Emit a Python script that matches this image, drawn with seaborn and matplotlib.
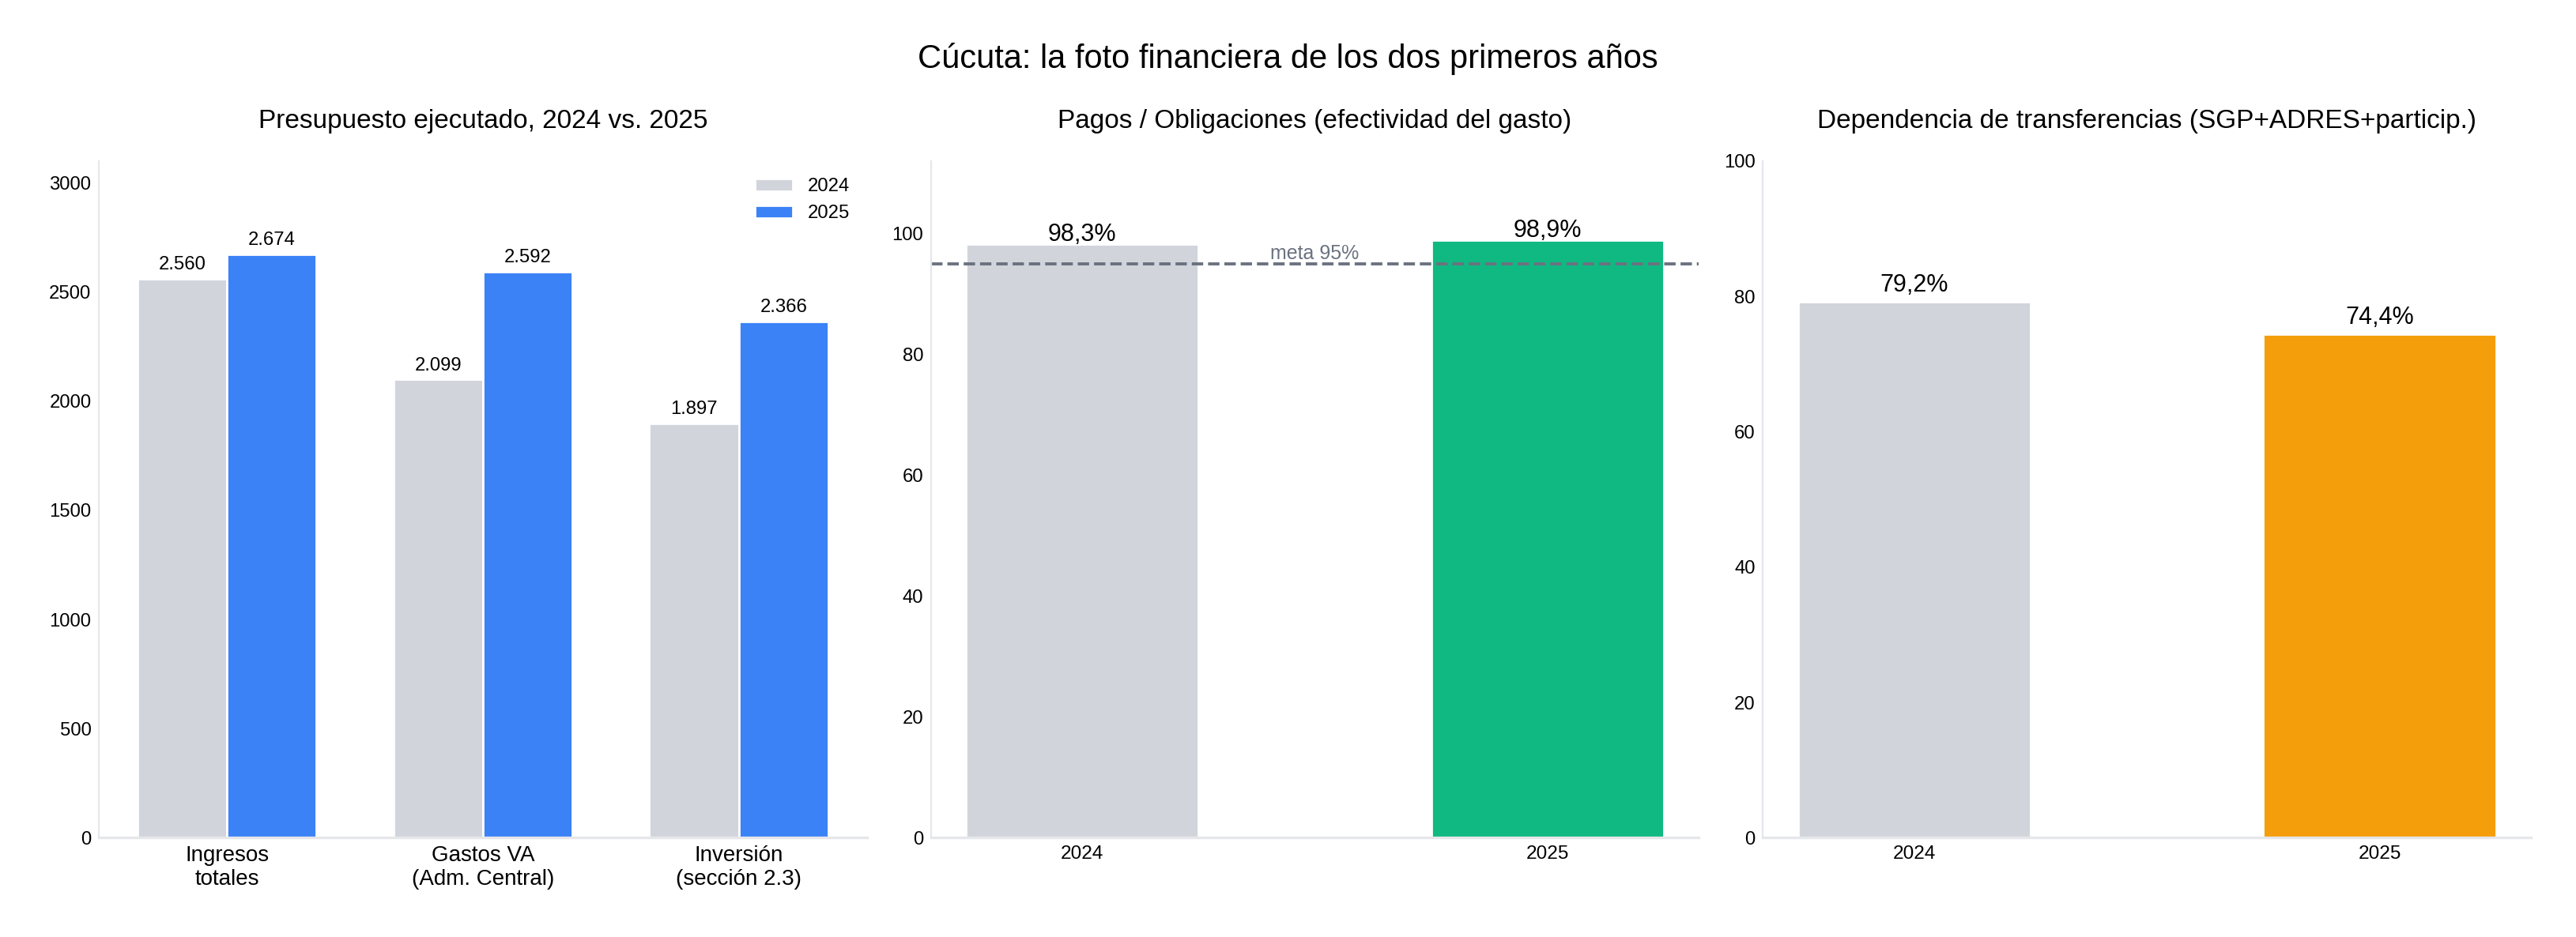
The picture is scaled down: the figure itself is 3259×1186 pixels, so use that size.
import pandas as pd
import matplotlib.pyplot as plt
import seaborn as sns

# Datos (miles de millones de pesos / porcentajes)
categorias = ['Ingresos\ntotales', 'Gastos VA\n(Adm. Central)', 'Inversión\n(sección 2.3)']
presupuesto_2024 = [2560, 2099, 1897]
presupuesto_2025 = [2674, 2592, 2366]
anios = ['2024', '2025']
pagos_oblig = [98.3, 98.9]
dependencia = [79.2, 74.4]
meta = 95

GRIS = '#d1d5db'
AZUL = '#3b82f6'
VERDE = '#10b981'
NARANJA = '#f59e0b'
LINEA = '#6b7280'
EJE = '#e5e7eb'

sns.set_style('white')
plt.rcParams['font.family'] = ['Liberation Sans', 'DejaVu Sans']
for k in ['text.color', 'axes.labelcolor', 'xtick.color', 'ytick.color']:
    plt.rcParams[k] = 'black'

df = pd.DataFrame({
    'categoria': categorias * 2,
    'valor': presupuesto_2024 + presupuesto_2025,
    'anio': ['2024'] * 3 + ['2025'] * 3,
})

fig, axes = plt.subplots(1, 3, figsize=(16.295, 5.93), dpi=200)
fig.subplots_adjust(left=0.0384, right=0.9825, bottom=0.106, top=0.828, wspace=0.0835)


def miles(v):
    return f'{v:,.0f}'.replace(',', '.')


def pct(v):
    return f'{v:.1f}%'.replace('.', ',')


# Panel 1: presupuesto ejecutado
ax = axes[0]
sns.barplot(data=df, x='categoria', y='valor', hue='anio', palette=[GRIS, AZUL],
            width=0.7, saturation=1, edgecolor='white', linewidth=1, ax=ax)
for cont in ax.containers:
    ax.bar_label(cont, labels=[miles(v) for v in cont.datavalues], padding=2.5, fontsize=8.6)
ax.set_ylim(0, 3100)
ax.set_yticks(range(0, 3001, 500))
ax.set_xlim(-0.5, 2.5)
ax.legend(title=None, frameon=False, fontsize=8.6, loc='upper right')
ax.set_title('Presupuesto ejecutado, 2024 vs. 2025', fontsize=12, pad=15)
ax.tick_params(axis='x', labelsize=10)

# Panel 2: pagos / obligaciones
ax = axes[1]
sns.barplot(x=anios, y=pagos_oblig, hue=anios, palette=[GRIS, VERDE], legend=False,
            width=0.5, saturation=1, edgecolor='white', linewidth=1, ax=ax)
ax.axhline(meta, ls='--', color=LINEA, lw=1.4)
ax.text(0.5, meta + 0.1, f'meta {meta}%', ha='center', va='bottom', fontsize=9, color=LINEA)
for i, v in enumerate(pagos_oblig):
    ax.text(i, v + 0.5, pct(v), ha='center', va='baseline', fontsize=11)
ax.set_ylim(0, 112)
ax.set_xlim(-0.325, 1.325)
ax.set_title('Pagos / Obligaciones (efectividad del gasto)', fontsize=12, pad=15)
ax.tick_params(axis='x', labelsize=8.8)

# Panel 3: dependencia de transferencias
ax = axes[2]
sns.barplot(x=anios, y=dependencia, hue=anios, palette=[GRIS, NARANJA], legend=False,
            width=0.5, saturation=1, edgecolor='white', linewidth=1, ax=ax)
for i, v in enumerate(dependencia):
    ax.text(i, v + 1.5, pct(v), ha='center', va='baseline', fontsize=11)
ax.set_ylim(0, 100)
ax.set_xlim(-0.325, 1.325)
ax.set_title('Dependencia de transferencias (SGP+ADRES+particip.)', fontsize=12, pad=15)
ax.tick_params(axis='x', labelsize=8.8)

for ax in axes:
    ax.set_xlabel('')
    ax.set_ylabel('')
    sns.despine(ax=ax)
    for s in ['left', 'bottom']:
        ax.spines[s].set_color(EJE)
    ax.spines['left'].set_linewidth(0.8)
    ax.spines['bottom'].set_linewidth(1.2)
    ax.tick_params(axis='both', length=0)
    ax.tick_params(axis='y', labelsize=8.6)

fig.suptitle('Cúcuta: la foto financiera de los dos primeros años', fontsize=15, y=0.937, va='center')

plt.savefig('out.png', dpi=200)
